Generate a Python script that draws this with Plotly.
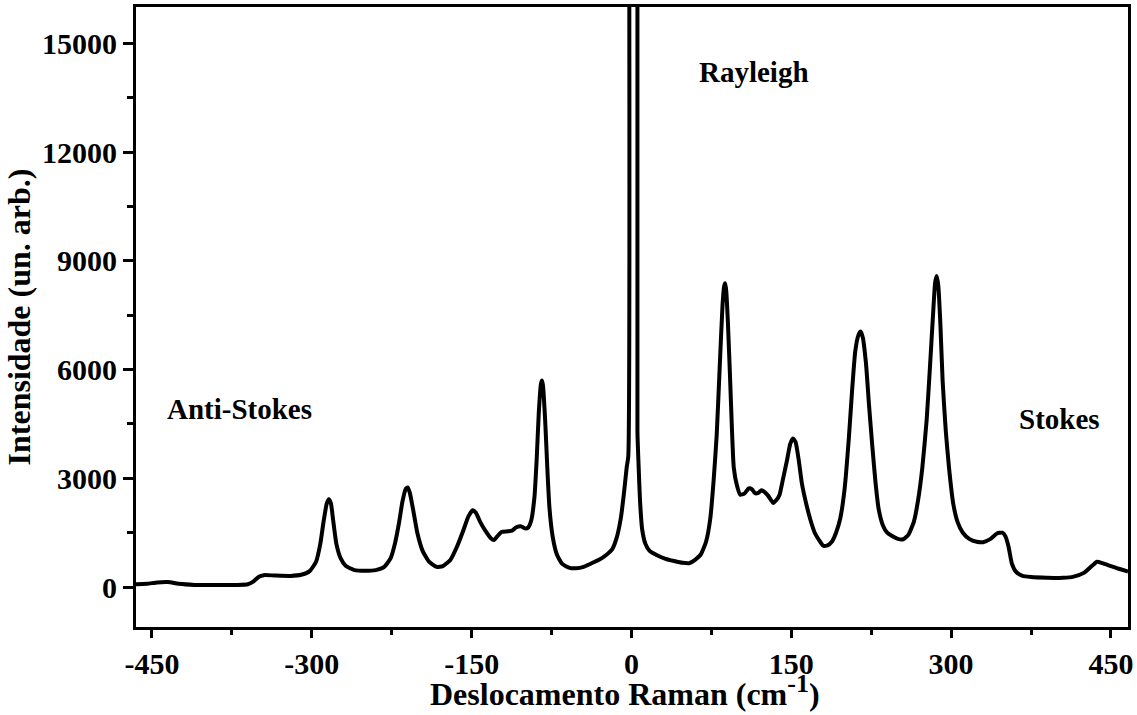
import plotly.graph_objects as go

# Raman spectrum: shift (cm^-1) and intensity (arb. units)
shift = [
    -466, -455, -445, -435, -425, -410, -390, -370, -360, -355, -350, -345, -335, -320,
    -310, -302, -296, -292, -289, -286, -284, -282, -280, -277, -273, -268, -260, -250,
    -240, -232, -226, -222, -218, -215, -212, -210, -208, -205, -201, -196, -190, -183,
    -177, -170, -164, -158, -153, -149, -146, -142, -137, -132, -129, -126, -122, -116,
    -112, -108, -104, -100, -97, -94, -91, -89, -87, -85, -84, -83, -81, -79, -77, -74,
    -70, -65, -58, -52, -45, -38, -30, -24, -18, -14, -10, -7, -4.5, -3, -2.2,
    5.6, 5.6, 6.5, 8, 10, 13, 17, 24, 32, 40, 48, 54, 60, 65, 70, 74, 77, 80, 83, 85.5,
    87, 88, 89, 90.5, 92.5, 94.5, 96, 99, 102, 106, 110, 113, 116, 119, 122, 125, 128,
    131, 133, 136, 139, 142, 146, 149, 151.5, 154, 157, 160, 164, 168, 172, 176, 180,
    184, 188, 192, 196, 200, 204, 207, 210, 213, 215, 217, 220, 223, 226, 229, 232, 236,
    240, 245, 250, 255, 260, 265, 269, 273, 277, 280, 283, 285, 286.5, 288, 290, 292,
    295, 298, 302, 306, 311, 317, 324, 330, 337, 343, 348, 351, 354, 357, 361, 367, 375,
    390, 405, 415, 425, 432, 437, 442, 450, 458, 466,
]
intensity = [
    80, 90, 130, 140, 90, 60, 55, 60, 80, 150, 280, 330, 320, 310,
    340, 440, 700, 1200, 1800, 2300, 2420, 2300, 1850, 1200, 800, 580, 470, 450,
    470, 560, 800, 1200, 1800, 2350, 2700, 2750, 2600, 2150, 1500, 1000, 700, 560,
    580, 750, 1100, 1550, 1950, 2120, 2050, 1800, 1550, 1350, 1300, 1400, 1520, 1540,
    1560, 1650, 1680, 1620, 1640, 1850, 2500, 3500, 4800, 5600, 5700, 5550, 4600, 3300, 2200, 1400,
    900, 640, 530, 520, 560, 650, 760, 880, 1050, 1350, 1900, 2600, 3300, 3600, 20000,
    20000, 4300, 3500, 2400, 1600, 1200, 1000, 880, 780, 720, 670, 660, 760, 900, 1250, 1900, 2900, 4200, 6200, 7800,
    8300, 8380, 8150, 7300, 5800, 4200, 3300, 2800, 2550, 2580, 2720, 2700, 2590, 2600, 2670, 2620, 2530,
    2400, 2320, 2400, 2550, 2950, 3500, 3950, 4100, 4000, 3500, 2850, 2300, 1850, 1500, 1300, 1140,
    1150, 1250, 1500, 1900, 2700, 4100, 5400, 6500, 6950, 7050, 6900, 6200, 5000, 3900, 2900, 2150, 1700,
    1500, 1400, 1330, 1320, 1450, 1800, 2400, 3300, 4600, 6000, 7500, 8400, 8580, 8300, 7200, 5700,
    4300, 3300, 2300, 1800, 1500, 1330, 1250, 1240, 1330, 1480, 1500, 1400, 1100, 650, 420, 310, 280,
    260, 255, 290, 400, 580, 700, 660, 580, 500, 430,
]

x_ticks = [-450, -300, -150, 0, 150, 300, 450]
x_ticktext = ["-450", "-300", "-150", "0", "150", "300", "450"]
y_ticks = [0, 3000, 6000, 9000, 12000, 15000]
y_ticktext = ["0", "3000", "6000", "9000", "12000", "15000"]

labels = ["Anti-Stokes", "Rayleigh", "Stokes"]
label_x = [-368, 115, 402]
label_y = [4900, 14200, 4650]

serif = "Liberation Serif"
line_style = dict(color="black", width=4, shape="spline", smoothing=0.5)

# The Rayleigh line runs off the top of the frame; draw the anti-Stokes and
# Stokes branches separately so each rises straight out of the plot area.
split = shift.index(5.6)
fig = go.Figure()
for xs, ys in ((shift[:split], intensity[:split]), (shift[split:], intensity[split:])):
    fig.add_trace(go.Scatter(x=xs, y=ys, mode="lines", line=line_style, showlegend=False))

for txt, lx, ly in zip(labels, label_x, label_y):
    fig.add_annotation(
        x=lx, y=ly, text=f"<b>{txt}</b>", showarrow=False,
        font=dict(family=serif, size=29, color="black"),
    )

# x-axis title, placed just under the tick labels
fig.add_annotation(
    xref="paper", yref="paper", x=0.4925, y=-0.064, xanchor="center", yanchor="top",
    text='<b>Deslocamento Raman (cm<sup><span style="font-size:26px">-1</span></sup>)</b>',
    showarrow=False, font=dict(family=serif, size=32, color="black"),
)

axis_common = dict(
    showline=True, mirror=True, linecolor="black", linewidth=3,
    ticks="outside", tickwidth=3, tickcolor="black",
    showgrid=False, zeroline=False,
    tickfont=dict(family=serif, size=30, color="black", weight="bold"),
)

fig.update_xaxes(
    range=[-465, 466], tickvals=x_ticks, ticktext=x_ticktext, ticklen=8,
    minor=dict(ticks="outside", ticklen=5, tickwidth=3, tickcolor="black", dtick=75, tick0=0),
    **axis_common,
)
fig.update_yaxes(
    range=[-1100, 16000], tickvals=y_ticks, ticktext=y_ticktext, ticklen=10,
    minor=dict(ticks="outside", ticklen=6, tickwidth=3, tickcolor="black", dtick=1500, tick0=0),
    title=dict(text="<b>Intensidade (un. arb.)</b>",
               font=dict(family=serif, size=32, color="black"), standoff=2),
    **axis_common,
)

fig.update_layout(
    width=1137, height=715,
    margin=dict(l=136, r=4, t=6, b=88),
    plot_bgcolor="white", paper_bgcolor="white",
)

fig.write_html("out.html")
